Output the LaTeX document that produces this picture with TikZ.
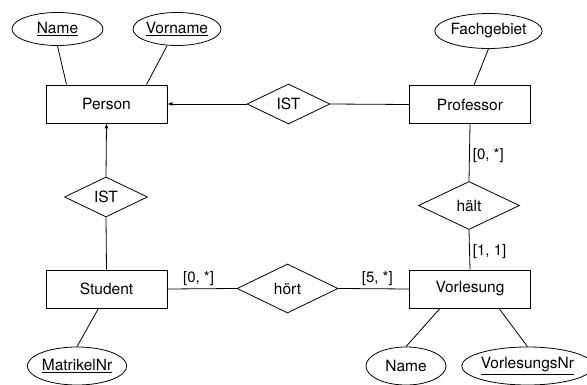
\documentclass[tikz,border=0pt]{standalone}
\usepackage{fontspec}
\setmainfont{TeX Gyre Heros}
\usepackage{tikz}
\usetikzlibrary{positioning,shapes.geometric,arrows.meta}
\tikzset{
  entity/.style={draw, line width=0.8pt, minimum width=121pt, minimum height=38pt, inner sep=0pt},
  relation/.style={draw, diamond, line width=0.8pt, inner sep=0pt},
  attrib/.style={draw, ellipse, line width=0.8pt, inner sep=0pt, minimum height=33pt},
  link/.style={line width=0.8pt},
  isa/.style={line width=0.8pt, -{Latex[length=5pt,width=4pt]}},
  card/.style={font=\fontsize{15}{18}\selectfont, inner sep=3pt},
}
\newcommand{\key}[1]{\underline{#1}}

\begin{document}
\begin{tikzpicture}[x=1pt, y=-1pt, font=\fontsize{15.5}{18}\selectfont]
\useasboundingbox (0,0) rectangle (587,385);

% Entities
\node[entity] (person) at (106.5,104) {Person};
\node[entity] (professor) at (470,104.5) {Professor};
\node[entity] (student) at (106.5,289) {Student};
\node[entity] (vorlesung) at (470,289) {Vorlesung};

% Relationships
\node[relation, minimum width=83pt, minimum height=40pt] (istprof) at (288.5,104) {IST};
\node[relation, minimum width=83pt, minimum height=40pt] (iststud) at (106,197) {IST};
\node[relation, minimum width=101pt, minimum height=49pt] (hoert) at (287.5,288.5) {hört};
\node[relation, minimum width=101pt, minimum height=48pt] (haelt) at (469,205.5) {hält};

% Attributes
\node[attrib, minimum width=91pt] (name) at (57.5,29) {\key{Name}};
\node[attrib, minimum width=88pt] (vorname) at (177,29) {\key{Vorname}};
\node[attrib, minimum width=93pt, minimum height=35pt] (fach) at (488.5,31) {Fachgebiet};
\node[attrib, minimum width=90pt, minimum height=38pt] (matrikel) at (77,366) {\key{MatrikelNr}};
\node[attrib, minimum width=80pt, minimum height=38pt] (vname) at (406,366) {Name};
\node[attrib, minimum width=119pt, minimum height=38pt] (vnr) at (527.5,366) {\key{VorlesungsNr}};

% Attribute lines
\draw[link] (name.south) -- ([xshift=-40pt]person.north);
\draw[link] ([xshift=-10pt]vorname.south) -- ([xshift=40pt]person.north);
\draw[link] (fach.south) -- ([xshift=4pt]professor.north);
\draw[link] ([xshift=-8pt]student.south) -- (matrikel.north);
\draw[link] ([xshift=-30pt]vorlesung.south) -- (vname.north);
\draw[link] ([xshift=29pt]vorlesung.south) -- (vnr.north);

% Generalisation
\draw[isa] (istprof.west) -- (person.east);
\draw[link] (professor.west) -- (istprof.east);
\draw[isa] (iststud.north) -- (person.south);
\draw[link] (student.north) -- (iststud.south);

% Relationship lines with cardinalities
\draw[link] (student.east) -- node[card, above, pos=0.45] {[0, *]} (hoert.west);
\draw[link] (hoert.east) -- node[card, above, pos=0.55] {[5, *]} (vorlesung.west);
\draw[link] (professor.south) -- node[card, right, pos=0.55] {[0, *]} (haelt.north);
\draw[link] (haelt.south) -- node[card, right, pos=0.55] {[1, 1]} (vorlesung.north);

\end{tikzpicture}
\end{document}
